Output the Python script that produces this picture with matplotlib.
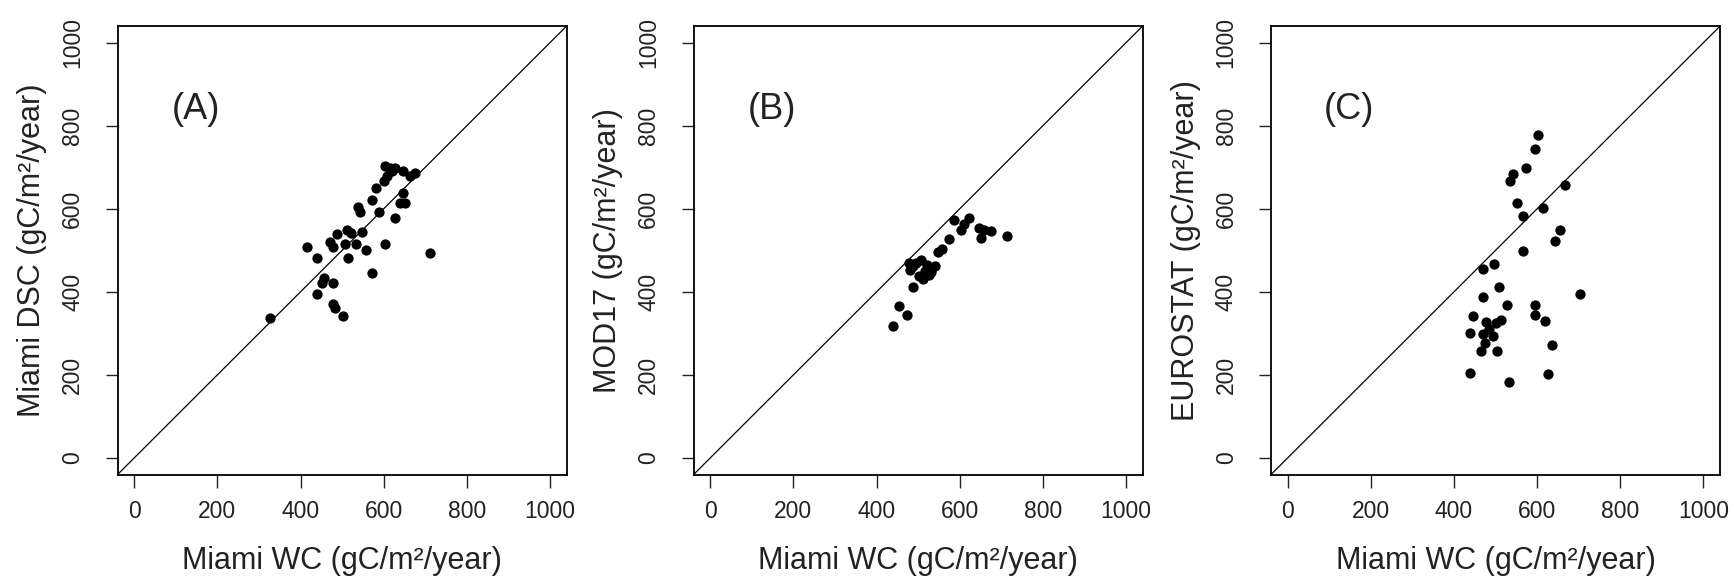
import matplotlib.pyplot as plt

plt.rcParams['font.family'] = ['Liberation Sans', 'DejaVu Sans']

# panel (A): Miami WC vs Miami DSC
a_x = [327, 415, 439, 439, 457, 451, 477, 472, 477, 487, 477, 482, 502, 506,
       514, 512, 522, 534, 549, 538, 544, 558, 573, 573, 582, 588, 602, 602,
       600, 608, 616, 628, 626, 646, 640, 652, 646, 664, 676, 712, 620]
a_y = [337, 509, 481, 394, 433, 422, 422, 521, 507, 538, 371, 361, 341, 514,
       481, 549, 542, 514, 543, 603, 591, 501, 446, 620, 649, 592, 514, 704,
       668, 680, 699, 697, 577, 638, 613, 613, 692, 680, 685, 494, 690]

# panel (B): Miami WC vs MOD17
b_x = [439, 453, 473, 488, 477, 480, 507, 501, 517, 521, 541, 487, 495, 512,
       532, 526, 547, 557, 575, 586, 603, 610, 622, 646, 652, 658, 674, 714]
b_y = [317, 365, 345, 411, 469, 453, 477, 437, 449, 465, 461, 462, 470, 432,
       447, 440, 497, 502, 526, 573, 549, 563, 577, 553, 529, 549, 547, 534]

# panel (C): Miami WC vs EUROSTAT
c_x = [603, 594, 574, 541, 535, 666, 551, 613, 565, 654, 642, 565, 470, 497,
       508, 470, 702, 527, 594, 594, 618, 446, 478, 501, 513, 438, 470, 493,
       475, 466, 504, 636, 438, 533, 627, 485]
c_y = [778, 745, 697, 683, 668, 658, 614, 601, 582, 548, 523, 499, 455, 466,
       411, 387, 394, 369, 369, 345, 330, 341, 327, 325, 331, 301, 298, 293,
       277, 258, 258, 273, 205, 182, 201, 310]

panels = [
    ("(A)", "Miami DSC (gC/m\u00b2/year)", a_x, a_y),
    ("(B)", "MOD17 (gC/m\u00b2/year)", b_x, b_y),
    ("(C)", "EUROSTAT (gC/m\u00b2/year)", c_x, c_y),
]
ticks = [0, 200, 400, 600, 800, 1000]
lefts = [0.0678, 0.400, 0.733]

fig = plt.figure(figsize=(17.34, 5.78), dpi=100)

for (tag, ylab, xs, ys), left in zip(panels, lefts):
    ax = fig.add_axes([left, 0.179, 0.259, 0.776])
    ax.plot([-40, 1040], [-40, 1040], color='black', lw=0.9)
    ax.plot(xs, ys, 'o', color='black', markersize=7.4, markeredgewidth=0)
    ax.set_xlim(-40, 1040)
    ax.set_ylim(-40, 1040)
    ax.set_xticks(ticks)
    ax.set_yticks(ticks)
    ax.tick_params(axis='both', direction='out', length=9, width=1,
                   labelsize=16.5, colors='#222222')
    ax.tick_params(axis='x', pad=9)
    ax.tick_params(axis='y', pad=15)
    for lab in ax.get_yticklabels():
        lab.set_rotation(90)
        lab.set_va('center')
    for s in ax.spines.values():
        s.set_linewidth(1.3)
    ax.text(148, 838, tag, fontsize=26, ha='center', va='center', color='#222222')
    ax.set_xlabel("Miami WC (gC/m\u00b2/year)", fontsize=22, labelpad=17, color='#222222')
    ax.set_ylabel(ylab, fontsize=22, labelpad=10, color='#222222')

plt.savefig('out.png', dpi=100)
